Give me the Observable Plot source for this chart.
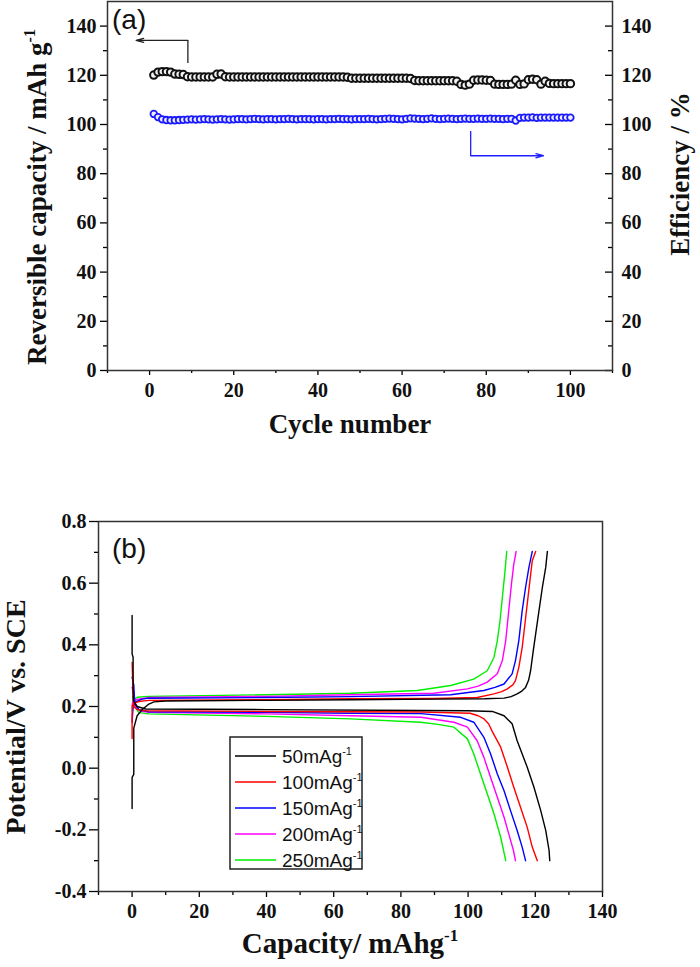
<!DOCTYPE html>
<html><head><meta charset="utf-8">
<script src="https://cdn.jsdelivr.net/npm/d3@7"></script>
<script src="https://cdn.jsdelivr.net/npm/@observablehq/plot@0.6"></script>
<style>
html,body{margin:0;padding:0;background:#fff;}
#wrap{position:relative;width:700px;height:967px;overflow:hidden;background:#fff}
#pa{position:absolute;left:0;top:0}
#pb{position:absolute;left:0;top:450px}
</style></head><body>
<div id="wrap"><div id="pa"></div><div id="pb"></div></div>
<script>
// ---------- Panel (a) data ----------
const capacity = [
  120.1, 121.3, 121.5, 121.5, 121.3, 120.5, 120.4, 120.3, 119.4, 119.3,
  119.3, 119.3, 119.3, 119.3, 119.3, 120.4, 120.5, 119.4, 119.3, 119.3,
  119.3, 119.3, 119.3, 119.3, 119.3, 119.3, 119.3, 119.3, 119.3, 119.3,
  119.3, 119.3, 119.3, 119.3, 119.3, 119.3, 119.3, 119.3, 119.3, 119.3,
  119.3, 119.3, 119.3, 119.3, 119.3, 119.3, 119.2, 118.8, 118.8, 118.8,
  118.8, 118.8, 118.8, 118.8, 118.8, 118.8, 118.8, 118.8, 118.8, 118.8,
  118.8, 118.7, 117.9, 117.8, 117.8, 117.8, 117.8, 117.8, 117.8, 117.8,
  117.8, 117.8, 117.6, 116.3, 116.0, 116.4, 118.0, 118.1, 118.1, 118.0,
  117.9, 116.4, 116.3, 116.3, 116.3, 116.4, 118.0, 116.3, 116.5, 118.2,
  118.4, 118.2, 116.4, 117.6, 116.7, 116.6, 116.6, 116.6, 116.6, 116.6
];
const efficiency = [
  104.3, 103.0, 102.1, 101.8, 101.7, 101.7, 101.8, 101.9, 102.0, 102.1,
  102.0, 102.1, 102.2, 102.1, 102.0, 102.1, 102.2, 102.1, 102.0, 102.1,
  102.2, 102.2, 102.1, 102.2, 102.3, 102.2, 102.1, 102.2, 102.2, 102.1,
  102.2, 102.2, 102.3, 102.2, 102.1, 102.2, 102.2, 102.2, 102.1, 102.2,
  102.2, 102.1, 102.2, 102.2, 102.3, 102.2, 102.2, 102.1, 102.2, 102.2,
  102.2, 102.3, 102.2, 102.1, 102.2, 102.3, 102.4, 102.3, 102.2, 102.1,
  102.3, 102.5, 102.4, 102.3, 102.2, 102.3, 102.5, 102.3, 102.2, 102.3,
  102.4, 102.3, 102.2, 102.3, 102.4, 102.3, 102.3, 102.4, 102.3, 102.3,
  102.4, 102.3, 102.3, 102.2, 102.3, 102.3, 101.6, 102.7, 102.8, 102.8,
  102.9, 102.7, 102.8, 102.8, 102.8, 102.8, 102.8, 102.8, 102.8, 102.8
];
const yTicksA = [0, 20, 40, 60, 80, 100, 120, 140];
const yMinorA = [10, 30, 50, 70, 90, 110, 130];
const xTicksA = [0, 20, 40, 60, 80, 100];
const xMinorA = [-10, 10, 30, 50, 70, 90, 110];
// annotation arrows (data coordinates)
const arrowCapacity = [{x: 9.1, y0: 125.0, y1: 134.2, tip: -3.2}];
const arrowEfficiency = [{x: 76.3, y0: 97.4, y1: 87.3, tip: 93.6}];

// ---------- Panel (b) data: [capacity, potential] ----------
const rates = ["50", "100", "150", "200", "250"];
const rateColors = ["#000000", "#ff0000", "#0000ff", "#ff00ff", "#00ee00"];
const charge50 = [[0,-0.131],[0,-0.03],[0.5,-0.02],[0.5,0.13],[1.5,0.17],[3,0.19],[5,0.208],[6.5,0.215],[10,0.218],[40,0.22],[65,0.222],[90,0.224],[105,0.225],[110.7,0.227],[112.8,0.232],[114.6,0.241],[116,0.25],[117.1,0.262],[118,0.285],[118.6,0.316],[119.4,0.381],[120.1,0.435],[121.1,0.511],[122.1,0.586],[123.1,0.651],[123.6,0.703]];
const charge100 = [[0,0.096],[0,0.2],[0.5,0.21],[2,0.216],[5,0.22],[40,0.222],[65,0.225],[90,0.226],[102.7,0.229],[107.7,0.241],[110,0.248],[111.7,0.257],[113.3,0.27],[114.1,0.284],[115.1,0.327],[116.1,0.392],[116.8,0.457],[117.6,0.533],[118.4,0.608],[119.1,0.673],[120.1,0.703]];
const charge150 = [[0,0.149],[0.3,0.2],[1,0.215],[3,0.224],[5,0.227],[40,0.229],[65,0.232],[94.8,0.238],[104.7,0.252],[108,0.262],[110.7,0.273],[113.1,0.306],[114.1,0.349],[115.1,0.414],[116.1,0.511],[117.1,0.586],[118.1,0.651],[119.1,0.703]];
const charge200 = [[0,0.203],[0.2,0.215],[1,0.222],[5,0.229],[40,0.233],[65,0.238],[89.8,0.243],[99.8,0.257],[103,0.266],[105.7,0.279],[108.7,0.306],[110.2,0.349],[111.2,0.414],[112.1,0.511],[112.9,0.597],[113.6,0.662],[114.3,0.703]];
const charge250 = [[0.2,0.19],[0.5,0.222],[1.5,0.23],[5,0.233],[40,0.238],[65,0.243],[84.9,0.252],[94.8,0.268],[101.7,0.289],[105.7,0.316],[107.7,0.359],[108.7,0.414],[109.5,0.478],[110.2,0.554],[110.9,0.630],[111.5,0.703]];
const discharge50 = [[0,0.495],[0,0.37],[0.3,0.36],[0.3,0.22],[1.5,0.2],[4,0.192],[40,0.19],[86,0.187],[100,0.186],[107.2,0.184],[110.7,0.170],[113.1,0.144],[114.6,0.089],[117.6,0.003],[119.6,-0.062],[121.6,-0.137],[123.1,-0.202],[124.1,-0.267],[124.3,-0.30]];
const discharge100 = [[0,0.343],[0.3,0.25],[0.5,0.2],[1.5,0.19],[4,0.186],[40,0.184],[86,0.182],[100.6,0.178],[103,0.17],[104.6,0.161],[106.1,0.144],[107.1,0.121],[109.7,0.068],[111.7,0.003],[113.6,-0.062],[115.6,-0.127],[117.6,-0.192],[119.1,-0.256],[120.6,-0.30]];
const discharge150 = [[0,0.295],[0.5,0.27],[0.8,0.21],[2,0.19],[5,0.183],[40,0.181],[65,0.178],[86,0.177],[97.8,0.165],[101.7,0.149],[104.7,0.100],[106.7,0.046],[108.7,-0.019],[110.7,-0.073],[112.6,-0.137],[114.6,-0.202],[116.1,-0.256],[117.1,-0.30]];
const discharge200 = [[0,0.262],[0.5,0.24],[1,0.2],[2.5,0.185],[5,0.181],[40,0.176],[65,0.17],[86,0.165],[95.8,0.149],[99.8,0.133],[102.7,0.089],[104.7,0.035],[106.7,-0.030],[108.7,-0.094],[110.7,-0.159],[112.1,-0.213],[113.5,-0.267],[114.1,-0.30]];
const discharge250 = [[0.3,0.233],[0.8,0.2],[2,0.18],[5,0.176],[40,0.168],[65,0.16],[85.9,0.149],[91,0.142],[95.8,0.133],[99.8,0.095],[101.7,0.046],[103.7,-0.019],[105.7,-0.083],[107.7,-0.148],[109.7,-0.224],[111.2,-0.30]];
const yTicksB = [-0.4, -0.2, 0, 0.2, 0.4, 0.6, 0.8];
const yMinorB = [-0.3, -0.1, 0.1, 0.3, 0.5, 0.7];
const xTicksB = [0, 20, 40, 60, 80, 100, 120, 140];
const xMinorB = [-10, 10, 30, 50, 70, 90, 110, 130];

const serif = "'Liberation Serif', 'Times New Roman', serif";
const sans = "'Liberation Sans', Arial, sans-serif";
const noText = () => "";
function boldTicks(svg) {
  d3.select(svg).selectAll("text")
    .style("font-family", serif).style("font-size", "20px").style("font-weight", "bold").style("fill", "#111");
}

// ---------- Panel (a) ----------
const chartA = Plot.plot({
  width: 700, height: 450,
  marginLeft: 107, marginRight: 88, marginTop: 1, marginBottom: 80,
  x: {domain: [-10, 110]},
  y: {domain: [0, 150]},
  style: {background: "transparent", overflow: "visible"},
  marks: [
    Plot.axisX({ticks: xTicksA, tickSize: 5, tickPadding: 7, label: null, tickFormat: d => String(d), strokeWidth: 1.3}),
    Plot.axisX({ticks: xMinorA, tickSize: 3, label: null, tickFormat: noText, strokeWidth: 1.3}),
    Plot.axisY({ticks: yTicksA, tickSize: 7, tickPadding: 4, label: null, tickFormat: d => String(d), strokeWidth: 1.3}),
    Plot.axisY({ticks: yMinorA, tickSize: 4, label: null, tickFormat: noText, strokeWidth: 1.3}),
    Plot.axisY({anchor: "right", ticks: yTicksA, tickSize: 0, tickPadding: 9, label: null, tickFormat: d => String(d)}),
    Plot.axisY({anchor: "left", frameAnchor: "right", ticks: yTicksA, tickSize: 7, label: null, tickFormat: noText, strokeWidth: 1.3}),
    Plot.axisY({anchor: "left", frameAnchor: "right", ticks: yMinorA, tickSize: 4, label: null, tickFormat: noText, strokeWidth: 1.3}),
    Plot.frame({stroke: "#333", strokeWidth: 1.5}),
    Plot.dot(capacity, {x: (d, i) => i + 1, y: d => d, r: 3.7, stroke: "#111", strokeWidth: 2, fill: "#f2f2f2"}),
    Plot.dot(efficiency, {x: (d, i) => i + 1, y: d => d, r: 3.3, stroke: "#1a1aff", strokeWidth: 1.8, fill: "#eeeeff"}),
    Plot.link(arrowCapacity, {x1: "x", y1: "y0", x2: "x", y2: "y1", stroke: "#222", strokeWidth: 1.3}),
    Plot.arrow(arrowCapacity, {x1: "x", y1: "y1", x2: "tip", y2: "y1", stroke: "#222", strokeWidth: 1.3, headLength: 9, headAngle: 30}),
    Plot.link(arrowEfficiency, {x1: "x", y1: "y0", x2: "x", y2: "y1", stroke: "#2020ff", strokeWidth: 1.3}),
    Plot.arrow(arrowEfficiency, {x1: "x", y1: "y1", x2: "tip", y2: "y1", stroke: "#2020ff", strokeWidth: 1.3, headLength: 9, headAngle: 30})
  ]
});
boldTicks(chartA);
document.getElementById("pa").appendChild(chartA);
{
  const s = d3.select(chartA);
  const l = s.append("text").attr("transform", "translate(46,197) rotate(-90)")
    .attr("text-anchor", "middle").style("font", `bold 27px ${serif}`).attr("fill", "#111");
  l.append("tspan").text("Reversible capacity / mAh g");
  l.append("tspan").attr("dy", -11).style("font-size", "16px").text("-1");
  s.append("text").attr("transform", "translate(689,174) rotate(-90)")
    .attr("text-anchor", "middle").style("font", `bold 27px ${serif}`).attr("fill", "#111")
    .text("Efficiency / %");
  s.append("text").attr("x", 350).attr("y", 433).attr("text-anchor", "middle")
    .style("font", `bold 27px ${serif}`).attr("fill", "#111").text("Cycle number");
  s.append("text").attr("x", 112).attr("y", 29).attr("text-anchor", "start")
    .style("font", `28px ${sans}`).attr("fill", "#111").text("(a)");
}

// ---------- Panel (b) ----------
const chargeSets = [charge50, charge100, charge150, charge200, charge250];
const dischargeSets = [discharge50, discharge100, discharge150, discharge200, discharge250];
const curveMarks = [];
for (let k = rates.length - 1; k >= 0; k--) {
  curveMarks.push(Plot.line(chargeSets[k], {stroke: rateColors[k], strokeWidth: 1.4}));
  curveMarks.push(Plot.line(dischargeSets[k], {stroke: rateColors[k], strokeWidth: 1.4}));
}
const chartB = Plot.plot({
  width: 700, height: 517,
  marginLeft: 98, marginRight: 98, marginTop: 71, marginBottom: 76,
  x: {domain: [-10, 140]},
  y: {domain: [-0.4, 0.8]},
  style: {background: "transparent", overflow: "visible"},
  marks: [
    Plot.axisX({ticks: xTicksB, tickSize: 6, tickPadding: 6, label: null, tickFormat: d => String(d), strokeWidth: 1.3}),
    Plot.axisX({ticks: xMinorB, tickSize: 4, label: null, tickFormat: noText, strokeWidth: 1.3}),
    Plot.axisY({ticks: yTicksB, tickSize: 9, tickPadding: 3, label: null, tickFormat: d => d.toFixed(1), strokeWidth: 1.3}),
    Plot.axisY({ticks: yMinorB, tickSize: 4, label: null, tickFormat: noText, strokeWidth: 1.3}),
    ...curveMarks,
    Plot.frame({stroke: "#333", strokeWidth: 1.5})
  ]
});
boldTicks(chartB);
document.getElementById("pb").appendChild(chartB);
{
  const s = d3.select(chartB);
  s.append("text").attr("transform", "translate(25,267) rotate(-90)")
    .attr("text-anchor", "middle").style("font", `bold 28px ${serif}`).attr("fill", "#111")
    .text("Potential/V vs. SCE");
  const xl = s.append("text").attr("x", 350).attr("y", 503).attr("text-anchor", "middle")
    .style("font", `bold 29px ${serif}`).attr("fill", "#111");
  xl.append("tspan").text("Capacity/ mAhg");
  xl.append("tspan").attr("dy", -12).style("font-size", "17px").text("-1");
  s.append("text").attr("x", 112).attr("y", 108).attr("text-anchor", "start")
    .style("font", `28px ${sans}`).attr("fill", "#111").text("(b)");
  // legend
  const lg = s.append("g");
  lg.append("rect").attr("x", 230).attr("y", 287).attr("width", 132).attr("height", 132)
    .attr("fill", "white").attr("stroke", "#222").attr("stroke-width", 1.5);
  rates.forEach((r, i) => {
    const y = 306 + i * 26;
    lg.append("line").attr("x1", 235).attr("x2", 276).attr("y1", y).attr("y2", y)
      .attr("stroke", rateColors[i]).attr("stroke-width", 1.5);
    const t = lg.append("text").attr("x", 282).attr("y", y + 7).attr("text-anchor", "start")
      .style("font", `19px ${sans}`).attr("fill", "#111");
    t.append("tspan").text(r + "mAg");
    t.append("tspan").attr("dy", -8).style("font-size", "11px").text("-1");
  });
}
</script></body></html>
